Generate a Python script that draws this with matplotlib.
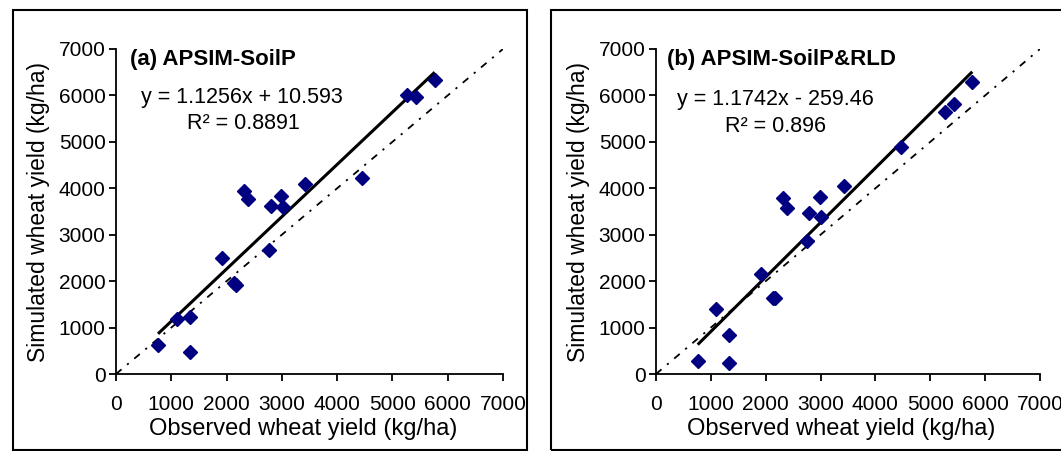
import matplotlib
matplotlib.use("Agg")
import matplotlib.pyplot as plt
from matplotlib.patches import Rectangle
import numpy as np

plt.rcParams['font.family'] = ['Liberation Sans', 'DejaVu Sans']

# observed wheat yield (kg/ha), shared by both panels
observed = [760, 1100, 1330, 1330, 1910, 2140, 2165, 2320, 2395, 2760, 2795,
            2985, 3015, 3420, 4458, 5266, 5427, 5765]
# simulated yield, (a) APSIM-SoilP
sim_a = [632, 1185, 1233, 477, 2500, 1950, 1915, 3950, 3770, 2665, 3620,
         3835, 3600, 4100, 4225, 6015, 5965, 6330]
# simulated yield, (b) APSIM-SoilP&RLD
sim_b = [280, 1390, 838, 244, 2156, 1640, 1633, 3790, 3570, 2865, 3463,
         3810, 3380, 4048, 4892, 5652, 5816, 6296]

titles = ["(a) APSIM-SoilP", "(b) APSIM-SoilP&RLD"]
slopes = [1.1256, 1.1742]
intercepts = [10.593, -259.46]
eq_text = ["y = 1.1256x + 10.593", "y = 1.1742x - 259.46"]
r2_text = ["R\u00b2 = 0.8891", "R\u00b2 = 0.896"]
ticks = [0, 1000, 2000, 3000, 4000, 5000, 6000, 7000]

W, H = 1061, 451
fig = plt.figure(figsize=(W / 100, H / 100), dpi=100)

# panel frames (pixels)
for x0, x1 in [(12.5, 527), (551.5, 1075)]:
    fig.patches.append(Rectangle((x0 / W, 1 - 450 / H), (x1 - x0) / W, 440 / H,
                                 transform=fig.transFigure, fill=False,
                                 edgecolor='black', linewidth=1.5))

ax_pos = [[116 / W, 77 / H, 387 / W, 325 / H],
          [656 / W, 77 / H, 384 / W, 325 / H]]
title_xy = [(253, 6784), (200, 6784)]
eq_xy = [(2279, 5966), (2178, 5923)]
r2_xy = [(2297, 5406), (2187, 5320)]

for i, sim in enumerate([sim_a, sim_b]):
    ax = fig.add_axes(ax_pos[i])
    ax.plot([0, 7000], [0, 7000], color='black', lw=1.3,
            linestyle=(0, (4, 4, 1.2, 4)))
    xs = np.array([min(observed), max(observed)])
    ax.plot(xs, slopes[i] * xs + intercepts[i], color='black', lw=2.2,
            solid_capstyle='butt')
    ax.plot(observed, sim, linestyle='none', marker='D', markersize=7.3,
            color='#000080')

    ax.set_xlim(0, 7000)
    ax.set_ylim(0, 7000)
    ax.set_xticks(ticks)
    ax.set_yticks(ticks)
    ax.spines['top'].set_visible(False)
    ax.spines['right'].set_visible(False)
    ax.spines['left'].set_linewidth(1.3)
    ax.spines['bottom'].set_linewidth(1.3)
    ax.tick_params(direction='out', length=5, width=1.3, labelsize=15)
    ax.tick_params(axis='x', pad=10)
    ax.tick_params(axis='y', pad=2.5)
    ax.set_xlabel("Observed wheat yield (kg/ha)", fontsize=17, labelpad=2)
    ax.set_ylabel("Simulated wheat yield (kg/ha)", fontsize=16.5, labelpad=6)
    ax.xaxis.set_label_coords(0.483, -0.135)
    ax.patch.set_alpha(0)

    ax.text(*title_xy[i], titles[i], fontsize=16, fontweight='bold',
            ha='left', va='center')
    ax.text(*eq_xy[i], eq_text[i], fontsize=15.5, ha='center', va='center')
    ax.text(*r2_xy[i], r2_text[i], fontsize=15.5, ha='center', va='center')

fig.savefig("out.png", dpi=100)
